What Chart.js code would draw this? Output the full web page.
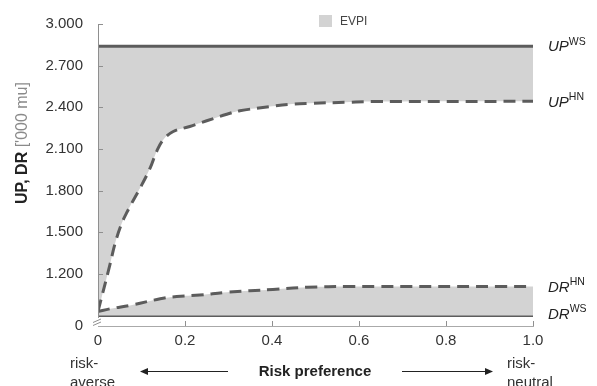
<!DOCTYPE html>
<html>
<head>
<meta charset="utf-8">
<script src="https://cdn.jsdelivr.net/npm/chart.js@4/dist/chart.umd.min.js"></script>
<style>
html,body{margin:0;padding:0;background:#fff;}
#c{display:block;}
</style>
</head>
<body>
<canvas id="c" width="597" height="386"></canvas>
<script>
// ---- data (values in mu; labels show thousands with "." separator) ----
const xTickValues = [0, 0.2, 0.4, 0.6, 0.8, 1.0];
const yTickValues = [1200, 1500, 1800, 2100, 2400, 2700, 3000];
const yBreakValue = 825; // bottom of broken axis, labelled "0"

const upWsX = [0, 1.0];
const upWsY = [2840, 2840];

const upHnX = [0, 0.028, 0.039, 0.054, 0.066, 0.074, 0.097, 0.120, 0.135, 0.150, 0.173, 0.211, 0.250, 0.296, 0.326, 0.395, 0.441, 0.487, 0.572, 0.625, 1.0];
const upHnY = [930, 1274, 1417, 1560, 1641, 1689, 1820, 1964, 2083, 2167, 2226, 2262, 2303, 2350, 2375, 2405, 2422, 2429, 2436, 2441, 2443];

const drHnX = [0, 0.028, 0.081, 0.143, 0.181, 0.234, 0.296, 0.402, 0.480, 0.579, 1.0];
const drHnY = [930, 949, 978, 1021, 1037, 1048, 1068, 1088, 1104, 1109, 1110];

const drWsX = [0, 1.0];
const drWsY = [900, 900];

const seriesNames = ['UP|WS', 'UP|HN', 'DR|HN', 'DR|WS'];
const legendLabel = 'EVPI';

const pts = (xs, ys) => xs.map((x, i) => ({x: x, y: ys[i]}));

const LINE = '#5c5c5c';
const FILL = 'rgb(211,211,211)';
const FONT = '"Liberation Sans", Arial, sans-serif';

const deco = {
  id: 'deco',
  afterDraw(chart) {
    const {ctx, chartArea: a, scales: {x, y}} = chart;
    ctx.save();
    // y axis line (broken near bottom)
    ctx.strokeStyle = '#8f8f8f';
    ctx.lineWidth = 1;
    const yl = Math.round(a.left) + 0.5;
    ctx.beginPath();
    ctx.moveTo(yl, a.top);
    ctx.lineTo(yl, y.getPixelForValue(yTickValues[0]) + 44);
    ctx.stroke();
    // break marks
    ctx.beginPath();
    ctx.moveTo(a.left - 5, a.bottom - 3.5); ctx.lineTo(a.left + 3, a.bottom - 7);
    ctx.moveTo(a.left - 5, a.bottom - 0.5); ctx.lineTo(a.left + 3, a.bottom - 4);
    ctx.stroke();
    // y ticks (inward)
    yTickValues.forEach(v => {
      const py = Math.round(y.getPixelForValue(v)) + 0.5;
      ctx.beginPath(); ctx.moveTo(a.left, py); ctx.lineTo(a.left + 5, py); ctx.stroke();
    });
    // x ticks (inward)
    xTickValues.slice(1).forEach(v => {
      const px = Math.round(x.getPixelForValue(v)) + 0.5;
      ctx.beginPath(); ctx.moveTo(px, a.bottom); ctx.lineTo(px, a.bottom - 5); ctx.stroke();
    });

    // right-hand series labels
    const lastVals = [upWsY[upWsY.length-1], upHnY[upHnY.length-1], drHnY[drHnY.length-1], drWsY[drWsY.length-1]];
    const offs = [0, 0, 0, -2];
    ctx.fillStyle = '#222';
    ctx.textBaseline = 'middle';
    ctx.textAlign = 'left';
    seriesNames.forEach((n, i) => {
      const [main, sup] = n.split('|');
      const py = y.getPixelForValue(lastVals[i]) + 1 + offs[i];
      ctx.font = 'italic 15px ' + FONT;
      ctx.fillText(main, a.right + 15, py);
      const w = ctx.measureText(main).width;
      ctx.font = '10.5px ' + FONT;
      ctx.fillText(sup, a.right + 15 + w, py - 5);
    });

    // legend
    ctx.fillStyle = FILL;
    ctx.fillRect(319, 15, 13, 12);
    ctx.fillStyle = '#444';
    ctx.font = '12px ' + FONT;
    ctx.fillText(legendLabel, 340, 21.5);

    // y axis title
    ctx.save();
    ctx.translate(23, 143);
    ctx.rotate(-Math.PI / 2);
    ctx.font = 'bold 16px ' + FONT;
    const t1 = 'UP, DR ';
    const w1 = ctx.measureText(t1).width;
    ctx.font = '16px ' + FONT;
    const t2 = "['000 mu]";
    const w2 = ctx.measureText(t2).width;
    let sx = -(w1 + w2) / 2;
    ctx.textAlign = 'left';
    ctx.font = 'bold 16px ' + FONT;
    ctx.fillStyle = '#222';
    ctx.fillText(t1, sx, 0);
    ctx.font = '16px ' + FONT;
    ctx.fillStyle = '#8a8a8a';
    ctx.fillText(t2, sx + w1, 0);
    ctx.restore();

    // bottom annotations
    ctx.fillStyle = '#333';
    ctx.font = '15px ' + FONT;
    ctx.textAlign = 'left';
    ctx.fillText('risk-', 70, 364);
    ctx.fillText('averse', 70, 383);
    ctx.fillText('risk-', 507, 364);
    ctx.fillText('neutral', 507, 383);
    ctx.font = 'bold 15px ' + FONT;
    ctx.textAlign = 'center';
    ctx.fillStyle = '#222';
    ctx.fillText('Risk preference', 315, 372);

    // arrows
    ctx.strokeStyle = '#222';
    ctx.fillStyle = '#222';
    ctx.lineWidth = 1;
    ctx.beginPath(); ctx.moveTo(228, 371.5); ctx.lineTo(146, 371.5); ctx.stroke();
    ctx.beginPath(); ctx.moveTo(140, 371.5); ctx.lineTo(148, 368); ctx.lineTo(148, 375); ctx.closePath(); ctx.fill();
    ctx.beginPath(); ctx.moveTo(402, 371.5); ctx.lineTo(486, 371.5); ctx.stroke();
    ctx.beginPath(); ctx.moveTo(493, 371.5); ctx.lineTo(485, 368); ctx.lineTo(485, 375); ctx.closePath(); ctx.fill();
    ctx.restore();
  }
};

new Chart(document.getElementById('c'), {
  type: 'line',
  data: {
    datasets: [
      {label: 'UP WS', data: pts(upWsX, upWsY), borderColor: LINE, borderWidth: 3, pointRadius: 0, fill: false},
      {label: 'UP HN', data: pts(upHnX, upHnY), borderColor: LINE, borderWidth: 3, borderDash: [12, 7], pointRadius: 0,
       tension: 0.4, fill: '-1', backgroundColor: FILL},
      {label: 'DR HN', data: pts(drHnX, drHnY), borderColor: LINE, borderWidth: 3, borderDash: [12, 7], pointRadius: 0,
       tension: 0.4, fill: '+1', backgroundColor: FILL},
      {label: 'DR WS', data: pts(drWsX, drWsY), borderColor: LINE, borderWidth: 3, pointRadius: 0, fill: false}
    ]
  },
  options: {
    responsive: false,
    devicePixelRatio: 1,
    animation: false,
    layout: {padding: {top: 22, right: 64, bottom: 0, left: 0}},
    plugins: {legend: {display: false}, tooltip: {enabled: false}},
    scales: {
      x: {
        type: 'linear', min: 0, max: 1,
        afterBuildTicks: s => { s.ticks = xTickValues.map(v => ({value: v})); },
        afterFit: s => { s.height = 60; },
        grid: {display: false, drawTicks: false},
        border: {display: true, color: '#aaa', width: 1},
        ticks: {padding: 6, color: '#333', font: {family: FONT, size: 15},
                callback: v => v === 0 ? '0' : Number(v).toFixed(1)}
      },
      y: {
        type: 'linear', min: yBreakValue, max: 3000,
        afterBuildTicks: s => { s.ticks = [yBreakValue].concat(yTickValues).map(v => ({value: v})); },
        afterFit: s => { s.width = 98; },
        grid: {display: false, drawTicks: false},
        border: {display: false},
        ticks: {padding: 15, color: '#333', font: {family: FONT, size: 15},
                callback: v => v === yBreakValue ? '0' : (v / 1000).toFixed(3)}
      }
    }
  },
  plugins: [deco]
});
</script>
</body>
</html>
